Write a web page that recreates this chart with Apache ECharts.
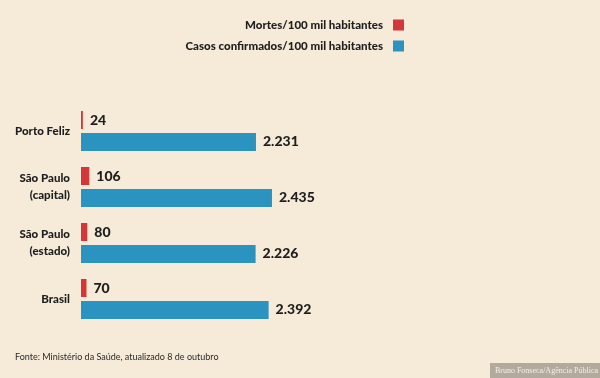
<!DOCTYPE html>
<html><head><meta charset="utf-8">
<script src="https://cdn.jsdelivr.net/npm/echarts@6/dist/echarts.min.js"></script>
<style>html,body{margin:0;padding:0;background:#f5ebd8;}#c{width:600px;height:378px;}</style>
</head><body><div id="c"></div>
<script>
const categories = ['Porto Feliz', 'São Paulo\n(capital)', 'São Paulo\n(estado)', 'Brasil'];
const mortes = [24, 106, 80, 70];
const casos = [2231, 2435, 2226, 2392];
const seriesNames = ['Mortes/100 mil habitantes', 'Casos confirmados/100 mil habitantes'];
const fonte = 'Fonte: Ministério da Saúde, atualizado 8 de outubro';
const credit = 'Bruno Fonseca/Agência Pública';

const fmt = v => v.toLocaleString('pt-BR');
const chart = echarts.init(document.getElementById('c'), null, {renderer: 'canvas'});
const labelStyle = {show: true, position: 'right', distance: 7, color: '#1e1e1e', fontFamily: 'Lato', fontWeight: 900, fontSize: 14, formatter: p => fmt(p.value)};
chart.setOption({
  backgroundColor: '#f5ebd8',
  animation: false,
  legend: {
    orient: 'vertical', right: 191, top: 14, align: 'right',
    itemWidth: 11, itemHeight: 11, itemGap: 9,
    icon: 'rect',
    textStyle: {fontFamily: 'Lato', fontWeight: 900, fontSize: 11.5, color: '#1e1e1e', padding: [0, 5, 0, 0]},
    data: seriesNames
  },
  grid: {left: 81, top: 103, height: 224, width: 235.3},
  xAxis: {type: 'value', min: 0, max: 3000, show: false},
  yAxis: {
    type: 'category', data: categories, inverse: true,
    axisLine: {show: false}, axisTick: {show: false}, splitLine: {show: false},
    axisLabel: {margin: 11, color: '#1e1e1e', fontFamily: 'Lato', fontWeight: 900, fontSize: 11.5, lineHeight: 17, align: 'right'}
  },
  series: [
    {name: seriesNames[0], type: 'bar', data: mortes, barWidth: 18, barGap: '22%', itemStyle: {color: '#d4373a'}, label: labelStyle},
    {name: seriesNames[1], type: 'bar', data: casos, barWidth: 18, barGap: '22%', itemStyle: {color: '#2b93c0'}, label: labelStyle}
  ],
  graphic: [
    {type: 'text', left: 15, top: 353, style: {text: fonte, fontFamily: 'Lato', fontWeight: 400, fontSize: 9, fill: '#2a2a2a'}},
    {type: 'rect', right: 0, bottom: 0, shape: {width: 110, height: 15}, style: {fill: '#b3aa9e'}},
    {type: 'text', right: 2, bottom: 3, style: {text: credit, fontFamily: 'Liberation Serif', fontSize: 8, fill: '#f5f0e6'}}
  ]
});
</script></body></html>
